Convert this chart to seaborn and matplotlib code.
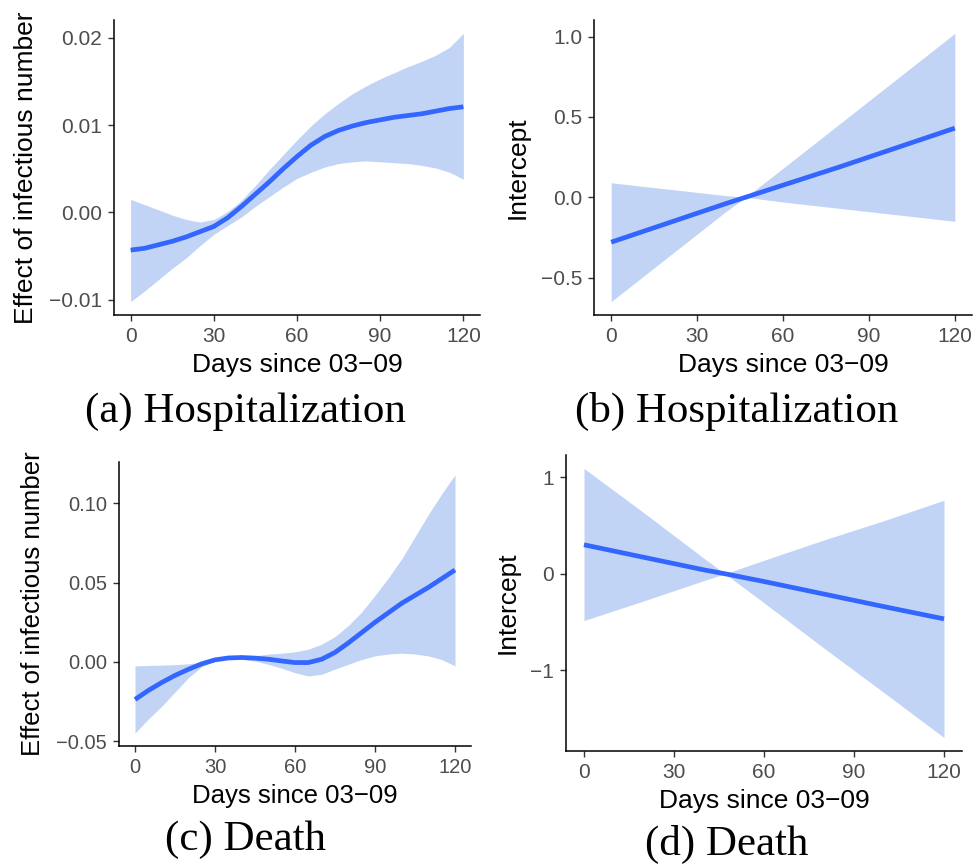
import numpy as np
import pandas as pd
import matplotlib
matplotlib.use("Agg")
import matplotlib.pyplot as plt
import seaborn as sns

# ---------------- data ----------------
days_fine = [0, 5, 10, 15, 20, 25, 30, 35, 40, 45, 50, 55, 60, 65, 70, 75, 80, 85, 90, 95, 100, 105, 110, 115, 120]

# (a) Hospitalization: effect of infectious number (x 0.001)
a_fit = [-4.3, -4.1, -3.7, -3.3, -2.8, -2.2, -1.6, -0.6, 0.7, 2.1, 3.5, 5.0, 6.4, 7.7, 8.7, 9.4, 9.9, 10.3, 10.6, 10.9, 11.1, 11.3, 11.6, 11.9, 12.1]
a_upper = [1.5, 0.9, 0.3, -0.3, -0.8, -1.1, -0.8, 0.1, 1.4, 3.1, 4.9, 6.6, 8.3, 9.9, 11.3, 12.5, 13.6, 14.5, 15.3, 16.0, 16.7, 17.3, 18.0, 18.9, 20.5]
a_lower = [-10.2, -9.0, -7.7, -6.4, -5.2, -3.8, -2.5, -1.5, -0.5, 0.7, 1.8, 2.9, 3.9, 4.6, 5.2, 5.6, 5.8, 5.9, 5.8, 5.7, 5.6, 5.4, 5.1, 4.6, 3.8]
a_scale = 0.001

# (c) Death: effect of infectious number (x 0.01)
c_fit = [-2.37, -1.8, -1.3, -0.85, -0.47, -0.12, 0.13, 0.25, 0.28, 0.24, 0.17, 0.06, -0.04, -0.04, 0.17, 0.6, 1.2, 1.85, 2.5, 3.1, 3.7, 4.2, 4.7, 5.25, 5.8]
c_upper = [-0.25, -0.22, -0.2, -0.17, -0.12, -0.02, 0.13, 0.25, 0.32, 0.4, 0.49, 0.55, 0.64, 0.8, 1.12, 1.6, 2.3, 3.15, 4.2, 5.3, 6.5, 7.9, 9.3, 10.6, 11.8]
c_lower = [-4.49, -3.6, -2.8, -1.9, -1.0, -0.3, 0.06, 0.17, 0.17, 0.05, -0.15, -0.4, -0.68, -0.89, -0.78, -0.45, -0.15, 0.15, 0.38, 0.5, 0.55, 0.5, 0.38, 0.15, -0.25]
c_scale = 0.01

# (b), (d) Intercepts
days_int = [0, 20, 40, 47, 60, 80, 100, 120]
b_fit = [-0.28, -0.16, -0.04, 0.0, 0.075, 0.19, 0.31, 0.43]
b_upper = [0.09, 0.05, 0.01, 0.0, 0.18, 0.46, 0.74, 1.02]
b_lower = [-0.65, -0.37, -0.09, 0.0, -0.03, -0.07, -0.11, -0.15]

d_fit = [0.30, 0.17, 0.04, 0.0, -0.08, -0.21, -0.34, -0.467]
d_upper = [1.09, 0.63, 0.16, 0.0, 0.14, 0.35, 0.55, 0.761]
d_lower = [-0.484, -0.28, -0.07, 0.0, -0.30, -0.77, -1.23, -1.695]

x_ticks = [0, 30, 60, 90, 120]
x_ticklabels = ["0", "30", "60", "90", "120"]
a_yticks = [-0.01, 0.0, 0.01, 0.02]
a_yticklabels = ["\u22120.01", "0.00", "0.01", "0.02"]
b_yticks = [-0.5, 0.0, 0.5, 1.0]
b_yticklabels = ["\u22120.5", "0.0", "0.5", "1.0"]
c_yticks = [-0.05, 0.0, 0.05, 0.10]
c_yticklabels = ["\u22120.05", "0.00", "0.05", "0.10"]
d_yticks = [-1, 0, 1]
d_yticklabels = ["\u22121", "0", "1"]

x_label = "Days since 03\u221209"
y_label_effect = "Effect of infectious number"
y_label_int = "Intercept"
captions = ["(a) Hospitalization", "(b) Hospitalization", "(c) Death", "(d) Death"]

# ---------------- style ----------------
sns.set_style("ticks")
plt.rcParams["font.family"] = ["Liberation Sans", "DejaVu Sans"]
plt.rcParams["text.color"] = "black"

LINE = "#3366FF"
BAND = "#C1D4F6"

fig = plt.figure(figsize=(9.8, 8.67), dpi=100)
W, H = 980.0, 867.0


def add_ax(l, t, r, b):
    return fig.add_axes([l / W, 1 - b / H, (r - l) / W, (b - t) / H])


def panel(ax, x, fit, lo, hi, scale, yticks, yticklabels, ylabel, tick_fs, lab_fs):
    df = pd.DataFrame({"day": x,
                       "fit": np.asarray(fit) * scale,
                       "lo": np.asarray(lo) * scale,
                       "hi": np.asarray(hi) * scale})
    ax.fill_between(df["day"], df["lo"], df["hi"], color=BAND, linewidth=0, zorder=1)
    sns.lineplot(data=df, x="day", y="fit", ax=ax, color=LINE, linewidth=3.4, zorder=3,
                 solid_capstyle="butt", solid_joinstyle="round")
    ymin, ymax = df["lo"].min(), df["hi"].max()
    pad = 0.05 * (ymax - ymin)
    ax.set_ylim(ymin - pad, ymax + pad)
    ax.set_xlim(-6, 126)
    ax.set_xticks(x_ticks)
    ax.set_xticklabels(x_ticklabels)
    ax.set_yticks(yticks)
    ax.set_yticklabels(yticklabels)
    ax.set_xlabel(x_label, fontsize=lab_fs, color="black", labelpad=5)
    ax.set_ylabel(ylabel, fontsize=lab_fs, color="black", labelpad=8)
    ax.tick_params(axis="both", labelsize=tick_fs, labelcolor="#4D4D4D", color="#333333",
                   length=4.5, width=1.0, pad=4)
    for s in ["top", "right"]:
        ax.spines[s].set_visible(False)
    for s in ["left", "bottom"]:
        ax.spines[s].set_linewidth(1.1)
        ax.spines[s].set_color("black")
    ax.set_facecolor("white")


ax_a = add_ax(114, 20, 480, 315)
ax_b = add_ax(594, 20, 972, 315)
ax_c = add_ax(119, 462, 471, 746)
ax_d = add_ax(566, 455, 962, 751)

panel(ax_a, days_fine, a_fit, a_lower, a_upper, a_scale, a_yticks, a_yticklabels, y_label_effect, 15, 19)
panel(ax_b, days_int, b_fit, b_lower, b_upper, 1.0, b_yticks, b_yticklabels, y_label_int, 15, 19)
panel(ax_c, days_fine, c_fit, c_lower, c_upper, c_scale, c_yticks, c_yticklabels, y_label_effect, 14.5, 18.5)
panel(ax_d, days_int, d_fit, d_lower, d_upper, 1.0, d_yticks, d_yticklabels, y_label_int, 15, 19)

serif = ["Liberation Serif", "DejaVu Serif"]
cap_pos = [(245, 422), (737, 422), (246, 850), (727, 855)]
for txt, (cx, cy) in zip(captions, cap_pos):
    fig.text(cx / W, 1 - cy / H, txt, ha="center", va="baseline", fontsize=31,
             family=serif, color="black")

fig.savefig("out.png", dpi=100, facecolor="white")
